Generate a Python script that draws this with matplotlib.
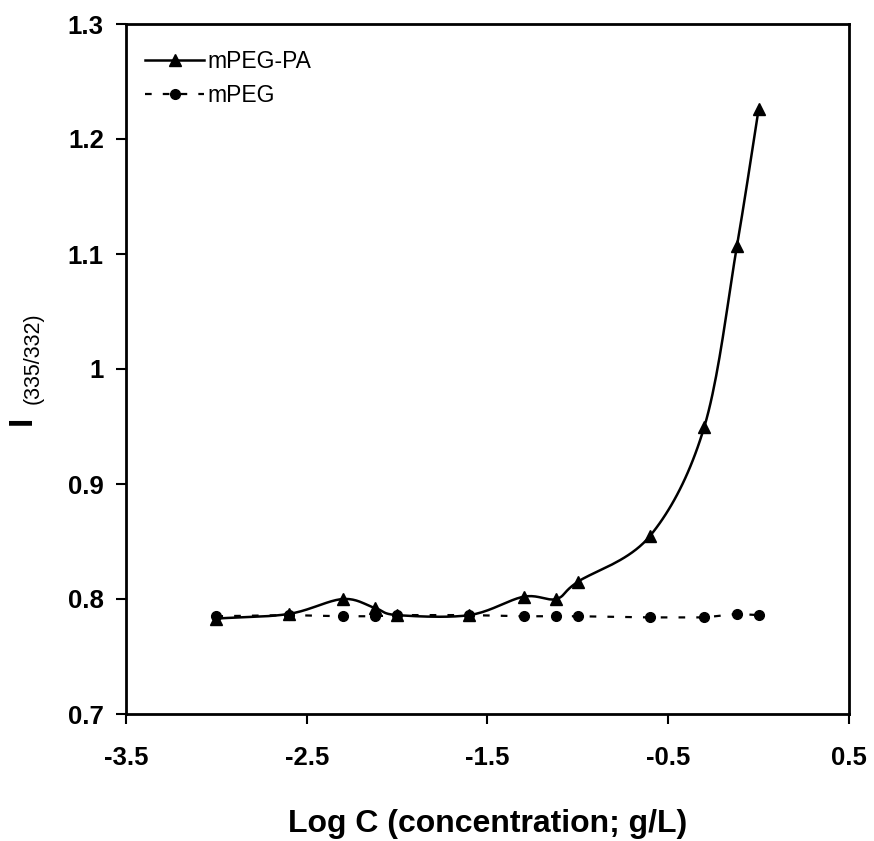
import numpy as np
import matplotlib.pyplot as plt

plt.rcParams['font.family'] = ['Liberation Sans', 'DejaVu Sans']

# log концентрации (g/L)
log_c = [-3.0, -2.6, -2.3, -2.12, -2.0, -1.6, -1.3, -1.12, -1.0, -0.6, -0.3, -0.12, 0.0]
# отношение интенсивностей I335/I332
mpeg_pa = [0.783, 0.787, 0.800, 0.792, 0.786, 0.786, 0.802, 0.800, 0.815, 0.855, 0.950, 1.107, 1.226]
mpeg = [0.785, 0.786, 0.785, 0.785, 0.786, 0.786, 0.785, 0.785, 0.785, 0.784, 0.784, 0.787, 0.786]

x_ticks = [-3.5, -2.5, -1.5, -0.5, 0.5]
y_ticks = [0.7, 0.8, 0.9, 1.0, 1.1, 1.2, 1.3]
y_tick_labels = ['0.7', '0.8', '0.9', '1', '1.1', '1.2', '1.3']


def smooth(x, y, n=20):
    # сглаженная кривая Catmull-Rom через точки (только для отрисовки линии)
    x = np.asarray(x, float)
    y = np.asarray(y, float)
    px = np.concatenate([[2 * x[0] - x[1]], x, [2 * x[-1] - x[-2]]])
    py = np.concatenate([[2 * y[0] - y[1]], y, [2 * y[-1] - y[-2]]])
    xs, ys = [], []
    t = np.linspace(0, 1, n, endpoint=False)
    for i in range(1, len(px) - 2):
        for p, out in ((px, xs), (py, ys)):
            p0, p1, p2, p3 = p[i - 1], p[i], p[i + 1], p[i + 2]
            out.extend(0.5 * (2 * p1 + (-p0 + p2) * t
                              + (2 * p0 - 5 * p1 + 4 * p2 - p3) * t ** 2
                              + (-p0 + 3 * p1 - 3 * p2 + p3) * t ** 3))
    xs.append(x[-1])
    ys.append(y[-1])
    return np.array(xs), np.array(ys)


W, H = 874, 841
fig = plt.figure(figsize=(W / 100, H / 100), dpi=100)
ax = fig.add_axes([126 / W, 1 - 714 / H, (849 - 126) / W, (714 - 24) / H])

sx, sy = smooth(log_c, mpeg_pa)
ax.plot(sx, sy, color='black', lw=1.8)
ax.plot(log_c, mpeg_pa, linestyle='none', marker='^', color='black', markersize=8)
ax.plot(log_c, mpeg, color='black', lw=1.6, linestyle=(0, (3, 5)),
        marker='o', markersize=7)

# легенда вручную
ax.plot([], [], color='black', lw=1.8, marker='^', markersize=8, label='mPEG-PA')
ax.plot([], [], color='black', lw=1.6, linestyle=(0, (3, 5)), marker='o',
        markersize=7, label='mPEG')
h, l = ax.get_legend_handles_labels()
ax.legend(h[-2:], l[-2:], loc='upper left', frameon=False, fontsize=16.5,
          handlelength=2.6, handletextpad=0.15, borderaxespad=0, borderpad=0,
          labelspacing=0.45, bbox_to_anchor=(0.026, 0.962))

ax.set_xlim(-3.5, 0.5)
ax.set_ylim(0.7, 1.3)
ax.set_xticks(x_ticks)
ax.set_xticklabels([str(v) for v in x_ticks])
ax.set_yticks(y_ticks)
ax.set_yticklabels(y_tick_labels)
ax.tick_params(direction='out', length=7, width=1.5, labelsize=18.5)
ax.tick_params(axis='x', pad=16)
ax.tick_params(axis='y', pad=9)
for lab in ax.get_xticklabels() + ax.get_yticklabels():
    lab.set_fontweight('bold')
for s in ax.spines.values():
    s.set_linewidth(2)

ax.set_xlabel('Log C (concentration; g/L)', fontsize=23, fontweight='bold', labelpad=28)

# подпись оси y: I с нижним индексом
fig.text(22 / W, 1 - 420 / H, 'I', rotation=90, fontsize=24, fontweight='bold',
         ha='center', va='center')
fig.text(33 / W, 1 - 358 / H, '(335/332)', rotation=90, fontsize=15.5,
         ha='center', va='center')

fig.savefig('out.png', dpi=100)
